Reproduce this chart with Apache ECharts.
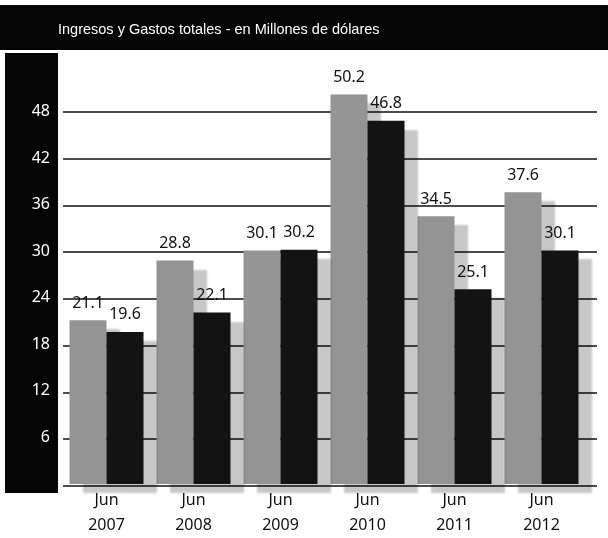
<!DOCTYPE html>
<html>
<head>
<meta charset="utf-8">
<script src="https://cdn.jsdelivr.net/npm/echarts@6/dist/echarts.min.js"></script>
<style>
html,body{margin:0;padding:0;background:#fff;}
#c{width:608px;height:538px;}
</style>
</head>
<body>
<div id="c"></div>
<script>
const titleText = 'Ingresos y Gastos totales - en Millones de dólares';
const categories = ['Jun\n2007', 'Jun\n2008', 'Jun\n2009', 'Jun\n2010', 'Jun\n2011', 'Jun\n2012'];
const ingresos = [21.1, 28.8, 30.1, 50.2, 34.5, 37.6];
const gastos = [19.6, 22.1, 30.2, 46.8, 25.1, 30.1];
const yMin = 0, yMax = 54, yStep = 6;

const chart = echarts.init(document.getElementById('c'), null, {renderer: 'canvas'});
const numFont = "'Noto Sans', 'DejaVu Sans', sans-serif";

const barShadow = {
  shadowColor: 'rgba(0,0,0,0.22)',
  shadowBlur: 2,
  shadowOffsetX: 13,
  shadowOffsetY: 9
};

const option = {
  backgroundColor: '#ffffff',
  animation: false,
  title: {
    text: titleText,
    left: 58,
    top: 22,
    padding: 0,
    textStyle: {
      color: '#ffffff',
      fontSize: 14.5,
      fontWeight: 'normal',
      fontFamily: "'Liberation Sans Narrow', 'Liberation Sans', sans-serif"
    }
  },
  graphic: [
    {type: 'rect', z: -10, silent: true, shape: {x: 0, y: 5, width: 608, height: 45}, style: {fill: '#050505'}},
    {type: 'rect', z: -10, silent: true, shape: {x: 5, y: 53, width: 53, height: 440}, style: {fill: '#050505'}}
  ],
  grid: [
    {left: 63, top: 65, width: 522, bottom: 52},
    {left: 63, top: 65, right: 11, bottom: 52}
  ],
  xAxis: [
    {
      type: 'category',
      gridIndex: 0,
      data: categories,
      axisLine: {show: false},
      axisTick: {show: false},
      axisLabel: {
        color: '#111',
        fontSize: 16,
        lineHeight: 25,
        margin: 4,
        fontFamily: numFont
      }
    },
    {type: 'value', gridIndex: 1, min: 0, max: 1, show: false}
  ],
  yAxis: [
    {
      type: 'value',
      gridIndex: 0,
      min: yMin,
      max: yMax,
      interval: yStep,
      axisLine: {show: false},
      axisTick: {show: false},
      splitLine: {show: false},
      axisLabel: {
        color: '#ffffff',
        fontSize: 16,
        margin: 13,
        fontFamily: numFont,
        formatter: v => (v === yMin || v === yMax) ? '' : String(v)
      }
    },
    {
      type: 'value',
      gridIndex: 1,
      min: yMin,
      max: yMax,
      interval: yStep,
      axisLine: {show: false},
      axisTick: {show: false},
      axisLabel: {show: false},
      splitLine: {show: true, showMaxLine: false, showMinLine: true, lineStyle: {color: '#111', width: 1.5}}
    }
  ],
  series: [
    {
      name: 'Ingresos',
      type: 'bar',
      xAxisIndex: 0,
      yAxisIndex: 0,
      data: ingresos,
      barWidth: 37,
      barGap: '0%',
      itemStyle: Object.assign({color: '#949494'}, barShadow),
      label: {show: true, position: 'top', distance: 9, color: '#111', fontSize: 16, fontFamily: numFont}
    },
    {
      name: 'Gastos',
      type: 'bar',
      xAxisIndex: 0,
      yAxisIndex: 0,
      data: gastos,
      barWidth: 37,
      barGap: '0%',
      itemStyle: Object.assign({color: '#131313'}, barShadow),
      label: {show: true, position: 'top', distance: 9, color: '#111', fontSize: 16, fontFamily: numFont}
    }
  ]
};
chart.setOption(option);
</script>
</body>
</html>
